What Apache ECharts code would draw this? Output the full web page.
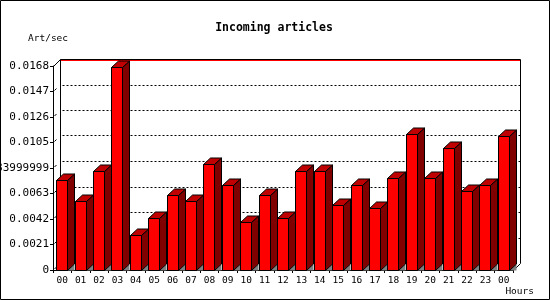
<!DOCTYPE html>
<html>
<head>
<meta charset="utf-8">
<script src="https://cdn.jsdelivr.net/npm/echarts@6/dist/echarts.min.js"></script>
<style>html,body{margin:0;padding:0;background:#fff}#c{width:550px;height:300px}</style>
</head>
<body>
<div id="c"></div>
<script>
var hours = ['00','01','02','03','04','05','06','07','08','09','10','11','12','13','14','15','16','17','18','19','20','21','22','23','00'];
var artPerSec = [0.00737,0.00564,0.00811,0.01665,0.00282,0.00424,0.00611,0.00564,0.00869,0.00696,0.00389,0.00611,0.00424,0.00811,0.00811,0.00531,0.00696,0.00506,0.00751,0.01116,0.00751,0.00998,0.00646,0.00696,0.01099];
var yTicks = [0,0.0021,0.0042,0.0063,0.0084,0.0105,0.0126,0.0147,0.0168];
var yTickLabels = ['0','0.0021','0.0042','0.0063','0.0083999999','0.0105','0.0126','0.0147','0.0168'];
var titleText = 'Incoming articles';
var yName = 'Art/sec';
var xName = 'Hours';

var FONT = '"DejaVu Sans Mono", "Liberation Mono", monospace';
var DX = 7, DY = 6.5;

var chart = echarts.init(document.getElementById('c'), null, {renderer:'canvas'});

function crisp(v){ return Math.round(v - 0.5) + 0.5; }

var option = {
  animation: false,
  backgroundColor: '#ffffff',
  grid: { left: 53, top: 66, width: 460, height: 204, outerBoundsMode: 'none' },
  xAxis: {
    type: 'category',
    data: hours,
    boundaryGap: true,
    axisLine: { show: true, lineStyle: { color: '#000', width: 1 } },
    axisTick: { show: true, length: 3, inside: false, lineStyle: { color: '#000' } },
    axisLabel: { color: '#000', fontFamily: FONT, fontSize: 9.5, margin: 6, interval: 0, hideOverlap: false },
    splitLine: { show: false }
  },
  yAxis: {
    type: 'value',
    min: 0, max: 0.0168, interval: 0.0021,
    axisLine: { show: true, lineStyle: { color: '#000', width: 1 } },
    axisTick: { show: true, length: 3, inside: false, lineStyle: { color: '#000' } },
    axisLabel: {
      color: '#000', fontFamily: FONT, fontSize: 11, margin: 4, hideOverlap: false,
      formatter: function (v) {
        for (var i = 0; i < yTicks.length; i++) {
          if (Math.abs(yTicks[i] - v) < 1e-9) return yTickLabels[i];
        }
        return '';
      }
    },
    splitLine: { show: false }
  },
  graphic: [
    { type: 'rect', shape: { x: 0.5, y: 0.5, width: 549, height: 299 }, style: { fill: 'none', stroke: '#000', lineWidth: 1 }, z: 100 },
    { type: 'text', x: 274, y: 28, style: { text: titleText, fontFamily: FONT, fontWeight: 'bold', fontSize: 11.5, fill: '#000', textAlign: 'center', textVerticalAlign: 'middle' } },
    { type: 'text', x: 28, y: 39, style: { text: yName, fontFamily: FONT, fontSize: 9.5, fill: '#000', textAlign: 'left', textVerticalAlign: 'middle' } },
    { type: 'text', x: 534, y: 292, style: { text: xName, fontFamily: FONT, fontSize: 9.5, fill: '#000', textAlign: 'right', textVerticalAlign: 'middle' } }
  ],
  series: [
    {
      type: 'custom',
      name: 'frame',
      z: 1,
      silent: true,
      data: [[0, 0]],
      encode: { x: 0, y: 1 },
      renderItem: function (params, api) {
        var cs = params.coordSys;
        var x0 = cs.x, x1 = cs.x + cs.width;
        var yTop = api.coord([0, yTicks[yTicks.length - 1]])[1];
        var yBot = api.coord([0, 0])[1];
        var bx0 = crisp(x0 + DX), bx1 = crisp(x1 + DX);
        var byT = crisp(yTop - DY), byB = crisp(yBot - DY);
        var ch = [];
        var ln = function (a, b, c, d, col, dash) {
          ch.push({ type: 'line', shape: { x1: a, y1: b, x2: c, y2: d }, style: { stroke: col || '#000', lineWidth: 1, lineDash: dash || null } });
        };
        for (var i = 1; i < yTicks.length - 1; i++) {
          var yy = crisp(api.coord([0, yTicks[i]])[1] - DY);
          ln(bx0 + 2, yy, bx1, yy, '#000', [2, 2]);
        }
        ln(bx0, byT, bx1, byT, '#000');
        ln(bx0, byT + 1, bx1, byT + 1, '#ff0000');
        ln(bx0, byT, bx0, byB, '#000');
        ln(bx1, byT, bx1, byB, '#000');
        ln(crisp(x0), crisp(yTop), bx0, byT, '#000');
        ln(crisp(x1), crisp(yBot), bx1, byB, '#000');
        for (var j = 0; j < yTicks.length - 1; j++) {
          var ty = api.coord([0, yTicks[j]])[1];
          ln(crisp(x0) + 1, ty - 1, crisp(x0) + 3, ty - 3, '#000');
        }
        return { type: 'group', children: ch };
      }
    },
    {
      type: 'custom',
      name: 'Art/sec',
      z: 2,
      silent: true,
      data: artPerSec.map(function (v, i) { return [i, v]; }),
      encode: { x: 0, y: 1 },
      renderItem: function (params, api) {
        var c = api.coord([api.value(0), api.value(1)]);
        var c0 = api.coord([api.value(0), 0]);
        var bw = api.size([1, 0])[0];
        var fw = Math.round(bw * 0.6);
        var xl = crisp(c[0] - fw / 2), xr = xl + fw;
        var yt = crisp(c[1]), yb = crisp(c0[1]);
        return {
          type: 'group',
          children: [
            { type: 'polygon', shape: { points: [[xr, yb], [xr + DX, yb - DY], [xr + DX, yb]] }, style: { fill: '#808080', stroke: null } },
            { type: 'polygon', shape: { points: [[xr, yt], [xr + DX, yt - DY], [xr + DX, yb - DY], [xr, yb]] }, style: { fill: '#800000', stroke: '#000', lineWidth: 1 } },
            { type: 'polygon', shape: { points: [[xl, yt], [xl + DX, yt - DY], [xr + DX, yt - DY], [xr, yt]] }, style: { fill: '#c00000', stroke: '#000', lineWidth: 1 } },
            { type: 'rect', shape: { x: xl, y: yt, width: fw, height: yb - yt }, style: { fill: '#ff0000', stroke: '#000', lineWidth: 1 } }
          ]
        };
      }
    }
  ]
};
chart.setOption(option);
</script>
</body>
</html>
